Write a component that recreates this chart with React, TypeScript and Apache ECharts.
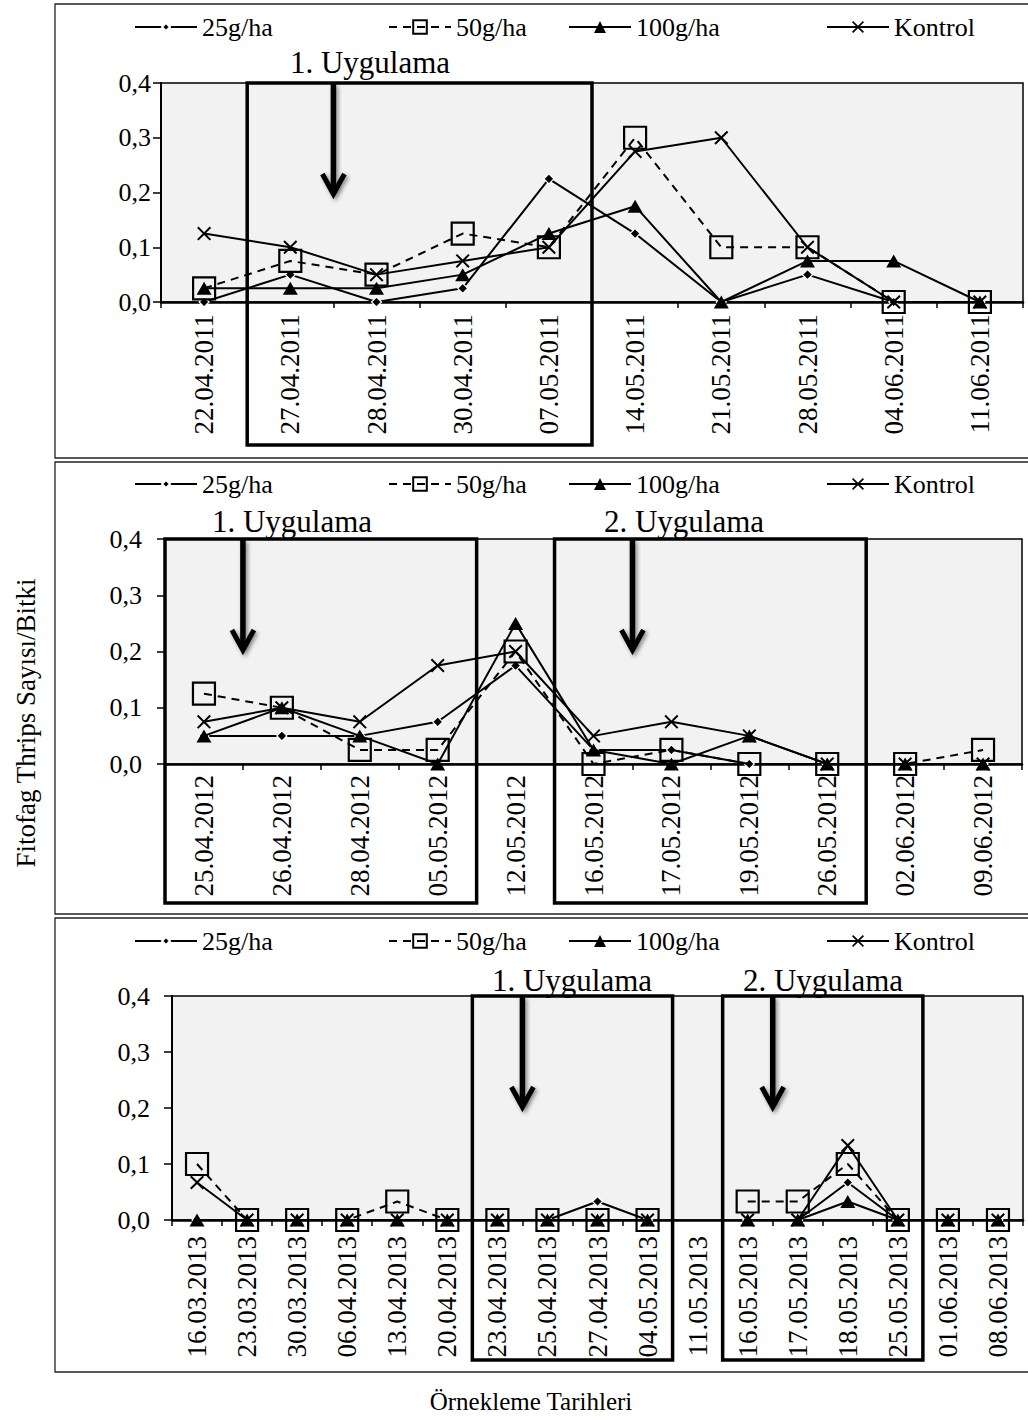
import React, { useEffect, useRef } from "react";
import * as echarts from "echarts";

const FONT = "'Liberation Serif', 'Times New Roman', serif";

const seriesNames = ["25g/ha", "50g/ha", "100g/ha", "Kontrol"];

// 2011 season
const dates2011 = ["22.04.2011", "27.04.2011", "28.04.2011", "30.04.2011", "07.05.2011", "14.05.2011", "21.05.2011", "28.05.2011", "04.06.2011", "11.06.2011"];
const g25_2011 = [0, 0.05, 0, 0.025, 0.225, 0.125, 0, 0.05, 0, 0];
const g50_2011 = [0.025, 0.075, 0.05, 0.125, 0.1, 0.3, 0.1, 0.1, 0, 0];
const g100_2011 = [0.025, 0.025, 0.025, 0.05, 0.125, 0.175, 0, 0.075, 0.075, 0];
const kontrol_2011 = [0.125, 0.1, 0.05, 0.075, 0.1, 0.275, 0.3, 0.1, 0, 0];

// 2012 season
const dates2012 = ["25.04.2012", "26.04.2012", "28.04.2012", "05.05.2012", "12.05.2012", "16.05.2012", "17.05.2012", "19.05.2012", "26.05.2012", "02.06.2012", "09.06.2012"];
const g25_2012 = [0.05, 0.05, 0.05, 0.075, 0.175, 0.025, 0.025, 0, 0, 0, 0];
const g50_2012 = [0.125, 0.1, 0.025, 0.025, 0.2, 0, 0.025, 0, 0, 0, 0.025];
const g100_2012 = [0.05, 0.1, 0.05, 0, 0.25, 0.025, 0, 0.05, 0, 0, 0];
const kontrol_2012 = [0.075, 0.1, 0.075, 0.175, 0.2, 0.05, 0.075, 0.05, 0, 0, 0];

// 2013 season (no sampling values on 11.05.2013)
const dates2013 = ["16.03.2013", "23.03.2013", "30.03.2013", "06.04.2013", "13.04.2013", "20.04.2013", "23.04.2013", "25.04.2013", "27.04.2013", "04.05.2013", "11.05.2013", "16.05.2013", "17.05.2013", "18.05.2013", "25.05.2013", "01.06.2013", "08.06.2013"];
const g25_2013 = [0, 0, 0, 0, 0, 0, 0, 0, 0.033, 0, null, 0, 0, 0.067, 0, 0, 0];
const g50_2013 = [0.1, 0, 0, 0, 0.033, 0, 0, 0, 0, 0, null, 0.033, 0.033, 0.1, 0, 0, 0];
const g100_2013 = [0, 0, 0, 0, 0, 0, 0, 0, 0, 0, null, 0, 0, 0.033, 0, 0, 0];
const kontrol_2013 = [0.067, 0, 0, 0, 0, 0, 0, 0, 0, 0, null, 0, 0, 0.133, 0, 0, 0];

// Application windows as [first, last] category index, with their captions
const applications2011 = [{ span: [1, 4], text: "1. Uygulama" }];
const applications2012 = [{ span: [0, 3], text: "1. Uygulama" }, { span: [5, 8], text: "2. Uygulama" }];
const applications2013 = [{ span: [6, 9], text: "1. Uygulama" }, { span: [11, 14], text: "2. Uygulama" }];

const yTicks = [0, 0.4, 0.1];

const panels = [
  {
    dates: dates2011,
    values: [g25_2011, g50_2011, g100_2011, kontrol_2011],
    apps: applications2011,
    grid: { left: 161, top: 83, width: 862, height: 219 },
    border: { y: 4, h: 454 },
    legendY: 27,
    captionY: 62,
    captionX: [370],
    boxBottom: 445,
    yLabelMargin: 10,
    xLabelMargin: 12,
  },
  {
    dates: dates2012,
    values: [g25_2012, g50_2012, g100_2012, kontrol_2012],
    apps: applications2012,
    grid: { left: 165, top: 539, width: 857, height: 225 },
    border: { y: 462, h: 452 },
    legendY: 484,
    captionY: 521,
    captionX: [292, 684],
    boxBottom: 903,
    yLabelMargin: 23,
    xLabelMargin: 11,
  },
  {
    dates: dates2013,
    values: [g25_2013, g50_2013, g100_2013, kontrol_2013],
    apps: applications2013,
    grid: { left: 172, top: 996, width: 851, height: 224 },
    border: { y: 918, h: 454 },
    legendY: 941,
    captionY: 980,
    captionX: [572, 823],
    boxBottom: 1360,
    yLabelMargin: 22,
    xLabelMargin: 16,
  },
];

const X_MARK = "path://M0,1L1,0L5,4L9,0L10,1L6,5L10,9L9,10L5,6L1,10L0,9L4,5Z";

const seriesStyles: any[] = [
  { symbol: "diamond", symbolSize: 10, itemStyle: { color: "#000", borderColor: "#fff", borderWidth: 1.2 }, lineType: "solid", legendH: 10 },
  { symbol: "rect", symbolSize: 22, itemStyle: { color: "rgba(0,0,0,0)", borderColor: "#000", borderWidth: 2.2 }, lineType: [8, 6], legendH: 17 },
  { symbol: "triangle", symbolSize: [15, 13], itemStyle: { color: "#000" }, lineType: "solid", legendH: 15 },
  { symbol: X_MARK, symbolSize: 14, itemStyle: { color: "#000" }, lineType: "solid", legendH: 15 },
];

const legendIconLeft = [134, 388, 568, 826];

function buildOption() {
  const grid: any[] = [];
  const xAxis: any[] = [];
  const yAxis: any[] = [];
  const series: any[] = [];
  const legend: any[] = [];

  panels.forEach((p, i) => {
    grid.push({
      ...p.grid,
      show: true,
      backgroundColor: "#F2F2F2",
      borderColor: "#000",
      borderWidth: 1.5,
    });
    xAxis.push({
      type: "category",
      gridIndex: i,
      data: p.dates,
      boundaryGap: true,
      axisLine: { lineStyle: { color: "#000", width: 2.5 } },
      axisTick: { show: true, length: 6, lineStyle: { color: "#000", width: 1.5 } },
      axisLabel: {
        rotate: 90,
        interval: 0,
        margin: p.xLabelMargin,
        color: "#000",
        fontFamily: FONT,
        fontSize: 27,
      },
      splitLine: { show: false },
    });
    yAxis.push({
      type: "value",
      gridIndex: i,
      min: yTicks[0],
      max: yTicks[1],
      interval: yTicks[2],
      axisLine: { show: true, lineStyle: { color: "#000", width: 2 } },
      axisTick: { show: true, length: 8, lineStyle: { color: "#000", width: 1.5 } },
      axisLabel: {
        margin: p.yLabelMargin,
        color: "#000",
        fontFamily: FONT,
        fontSize: 26,
        formatter: (v: number) => v.toFixed(1).replace(".", ","),
      },
      splitLine: { show: false },
    });
    p.values.forEach((vals, s) => {
      const st = seriesStyles[s];
      series.push({
        name: seriesNames[s],
        type: "line",
        xAxisIndex: i,
        yAxisIndex: i,
        data: vals.map((v) => (v === null ? "-" : v)),
        symbol: st.symbol,
        symbolSize: st.symbolSize,
        showAllSymbol: true,
        connectNulls: false,
        itemStyle: st.itemStyle,
        lineStyle: { color: "#000", width: 2, type: st.lineType },
        silent: true,
        z: 3 + s,
      });
    });
    seriesNames.forEach((name, s) => {
      const st = seriesStyles[s];
      legend.push({
        data: [name],
        left: legendIconLeft[s],
        top: p.legendY - 13,
        padding: 0,
        itemWidth: 62,
        itemHeight: st.legendH,
        selectedMode: false,
        textStyle: { color: "#000", fontFamily: FONT, fontSize: 26 },
      });
    });
  });

  return {
    animation: false,
    backgroundColor: "#fff",
    grid,
    xAxis,
    yAxis,
    series,
    legend,
  };
}

function arrowShape(x: number, top: number) {
  const tip = top + 111;
  const shadow = { shadowBlur: 4, shadowColor: "rgba(0,0,0,0.45)", shadowOffsetX: 2, shadowOffsetY: 2 };
  return [
    {
      type: "rect",
      z: 20,
      shape: { x: x - 2.75, y: top + 1, width: 5.5, height: tip - top - 5 },
      style: { fill: "#000", ...shadow },
    },
    {
      type: "polyline",
      z: 20,
      shape: { points: [[x - 11, tip - 20], [x, tip], [x + 11, tip - 20]] },
      style: { stroke: "#000", lineWidth: 5, fill: null, lineJoin: "miter", ...shadow },
    },
  ];
}

function buildGraphics(chart: echarts.ECharts) {
  const g: any[] = [];

  // panel frames
  panels.forEach((p) => {
    g.push({
      type: "rect",
      z: 1,
      shape: { x: 55, y: p.border.y, width: 1000, height: p.border.h },
      style: { fill: null, stroke: "#222", lineWidth: 1.3 },
    });
  });

  panels.forEach((p, i) => {
    const c0 = chart.convertToPixel({ xAxisIndex: i }, p.dates[0]) as number;
    const c1 = chart.convertToPixel({ xAxisIndex: i }, p.dates[1]) as number;
    const band = c1 - c0;
    const top = chart.convertToPixel({ yAxisIndex: i }, yTicks[1]) as number;
    p.apps.forEach((a, k) => {
      const left = (chart.convertToPixel({ xAxisIndex: i }, p.dates[a.span[0]]) as number) - band / 2;
      const right = (chart.convertToPixel({ xAxisIndex: i }, p.dates[a.span[1]]) as number) + band / 2;
      g.push({
        type: "rect",
        z: 15,
        shape: { x: left, y: top, width: right - left, height: p.boxBottom - top },
        style: { fill: null, stroke: "#000", lineWidth: 3.5 },
      });
      g.push(...arrowShape(left + band, top));
      g.push({
        type: "text",
        z: 20,
        x: p.captionX[k],
        y: p.captionY,
        style: {
          text: a.text,
          fill: "#000",
          font: `31px ${FONT}`,
          align: "center",
          verticalAlign: "middle",
        },
      });
    });
  });

  g.push({
    type: "text",
    x: 26,
    y: 723,
    rotation: Math.PI / 2,
    style: {
      text: "Fitofag Thrips Sayısı/Bitki",
      fill: "#000",
      font: `27px ${FONT}`,
      align: "center",
      verticalAlign: "middle",
    },
  });
  g.push({
    type: "text",
    x: 531,
    y: 1401,
    style: {
      text: "Örnekleme Tarihleri",
      fill: "#000",
      font: `25px ${FONT}`,
      align: "center",
      verticalAlign: "middle",
    },
  });
  return g;
}

export default function App() {
  const ref = useRef<HTMLDivElement>(null);
  useEffect(() => {
    if (!ref.current) return;
    const chart = echarts.init(ref.current, undefined, { renderer: "svg" });
    chart.setOption(buildOption() as any);
    chart.setOption({ graphic: buildGraphics(chart) } as any);
    return () => chart.dispose();
  }, []);
  return (
    <div
      ref={ref}
      style={{ position: "absolute", left: 0, top: 0, width: 1028, height: 1418, background: "#fff" }}
    />
  );
}
